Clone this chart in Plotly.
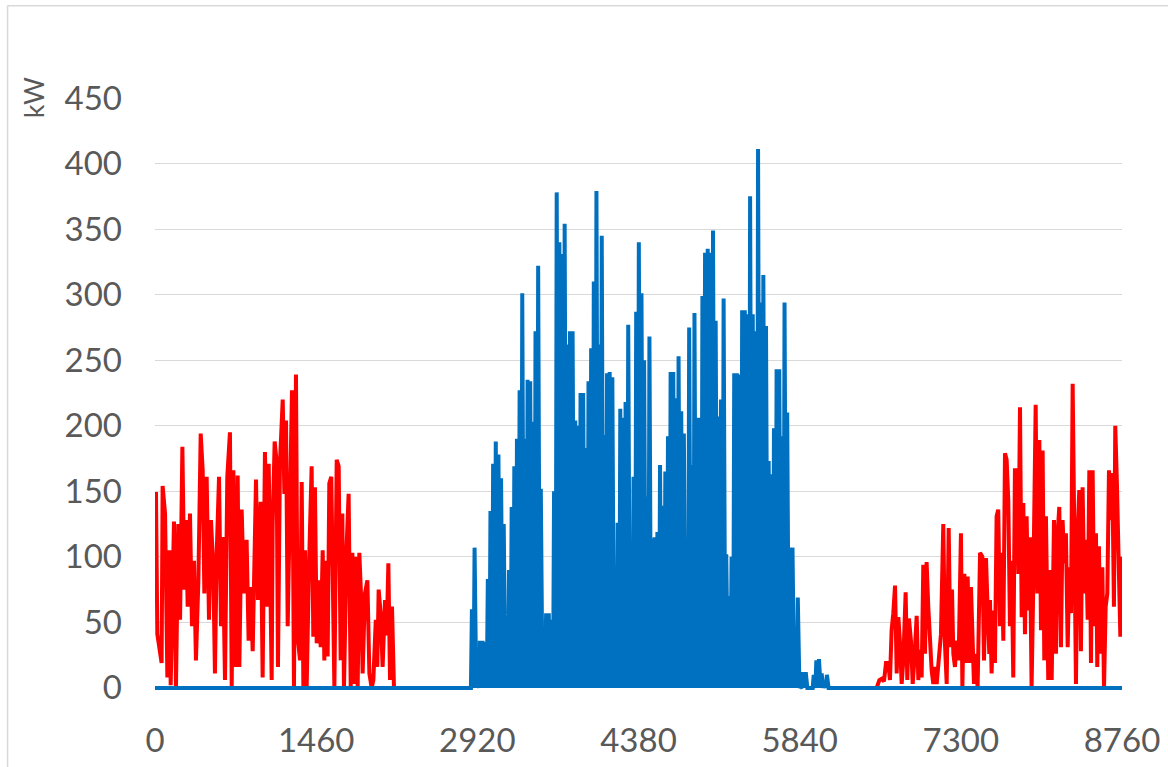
import plotly.graph_objects as go

# Hourly heating demand (kW), winter part of the year: hour of year and value
heat_hours_a = [0, 9, 21, 60, 69, 91, 112, 130, 142, 172,
                190, 211, 227, 248, 266, 281, 296, 317, 335, 353,
                371, 393, 414, 432, 447, 468, 489, 507, 528, 543,
                559, 580, 598, 613, 634, 655, 679, 695, 710, 731,
                749, 764, 785, 806, 830, 848, 866, 885, 915, 933,
                957, 975, 996, 1018, 1030, 1042, 1057, 1066, 1084, 1102,
                1114, 1132, 1157, 1172, 1187, 1202, 1223, 1241, 1259, 1277,
                1292, 1314, 1329, 1344, 1359, 1374, 1395, 1419, 1434, 1449,
                1465, 1486, 1501, 1519, 1534, 1549, 1564, 1579, 1597, 1610,
                1625, 1646, 1664, 1682, 1697, 1712, 1736, 1754, 1773, 1788,
                1806, 1821, 1836, 1851, 1866, 1881, 1902, 1924, 1942, 1963,
                1978, 2000, 2014, 2026, 2044, 2062, 2084, 2099, 2114, 2129,
                2147, 2165]
heat_kw_a = [148, 148, 41, 19, 154, 133, 8, 105, 2, 127,
             0, 125, 52, 184, 75, 128, 62, 133, 47, 97,
             21, 82, 194, 166, 72, 161, 52, 128, 92, 11,
             103, 161, 47, 115, 6, 161, 195, 1, 166, 16,
             162, 16, 136, 72, 113, 36, 77, 28, 159, 67,
             142, 8, 180, 62, 171, 105, 6, 125, 188, 172,
             16, 172, 220, 148, 204, 47, 150, 227, 1, 239,
             39, 21, 157, 1, 105, 0, 92, 169, 39, 153,
             34, 82, 31, 105, 21, 97, 24, 156, 161, 54,
             0, 174, 169, 21, 133, 0, 108, 148, 0, 103,
             3, 100, 0, 103, 72, 11, 72, 82, 11, 0,
             6, 52, 16, 75, 57, 16, 67, 40, 95, 6,
             62, 0]

# Heating demand (kW), autumn / early winter part of the year
heat_hours_b = [6537, 6562, 6583, 6604, 6622, 6643, 6658, 6673, 6688, 6704,
                6719, 6734, 6749, 6764, 6779, 6800, 6815, 6830, 6848, 6864,
                6879, 6900, 6915, 6930, 6945, 6960, 6975, 6990, 7005, 7021,
                7036, 7051, 7066, 7081, 7105, 7120, 7141, 7156, 7172, 7190,
                7205, 7220, 7232, 7247, 7262, 7280, 7301, 7314, 7332, 7347,
                7362, 7377, 7392, 7407, 7419, 7437, 7452, 7474, 7495, 7510,
                7528, 7546, 7558,
                7564, 7579, 7594, 7609, 7624, 7639, 7655, 7670, 7685, 7700,
                7715, 7730, 7745, 7760, 7775, 7790, 7806, 7821, 7836, 7851,
                7866, 7881, 7896, 7911, 7926, 7941, 7957, 7978, 7993, 8011,
                8026, 8041, 8056, 8071, 8092, 8108, 8123, 8144, 8162, 8177,
                8192, 8207, 8222, 8237, 8252, 8268, 8283, 8298, 8313, 8328,
                8343, 8358, 8373, 8388, 8403, 8419, 8434, 8449, 8464, 8479,
                8494, 8509, 8524, 8536, 8551, 8566, 8582, 8597, 8612, 8627,
                8642, 8657, 8672, 8687, 8699, 8714, 8730, 8745, 8760]
heat_kw_b = [0, 6, 7, 5, 19, 19, 6, 44, 57, 78,
             11, 54, 34, 3, 21, 73, 6, 53, 36, 3,
             21, 55, 6, 29, 8, 94, 26, 96, 62, 31,
             13, 3, 16, 3, 26, 41, 125, 34, 3, 122,
             31, 75, 26, 16, 36, 21, 118, 0, 87, 19,
             85, 19, 77, 39, 3, 26, 0, 103, 100, 21,
             99, 52, 26,
             67, 11, 59, 19, 131, 136, 47, 103, 36, 179,
             174, 143, 47, 97, 8, 166, 166, 87, 214, 54,
             141, 41, 131, 59, 115, 0, 82, 216, 72, 189,
             44, 181, 21, 131, 6, 90, 6, 128, 26, 118,
             138, 31, 128, 95, 118, 31, 92, 57, 232, 123,
             3, 118, 151, 28, 153, 72, 113, 52, 166, 19,
             166, 47, 118, 16, 108, 26, 92, 0, 62, 72,
             166, 128, 164, 62, 200, 156, 72, 39, 100]

# Cooling demand: daily afternoon peak (kW), night-time demand is zero
cool_first_day = 117
cool_daily_peak = [0, 0, 60, 107, 8, 36, 36, 35, 83, 135,          # 117-126
                   171, 188, 178, 160, 125, 34, 90, 138, 169, 190,  # 127-136
                   227, 301, 190, 235, 234, 203, 272, 322, 152, 19, # 137-146
                   57, 57, 52, 150, 378, 340, 331, 354, 262, 272,   # 147-156
                   272, 204, 200, 225, 225, 183, 234, 259, 310, 379,# 157-166
                   262, 345, 193, 240, 241, 237, 65, 126, 213, 206, # 167-176
                   218, 277, 103, 161, 287, 340, 301, 250, 146, 268,# 177-186
                   114, 115, 119, 170, 139, 165, 192, 241, 241, 221,# 187-196
                   253, 211, 194, 88, 275, 170, 286, 206, 206, 299, # 197-206
                   332, 335, 332, 349, 280, 207, 220, 297, 102, 70, # 207-216
                   100, 240, 240, 239, 288, 288, 285, 375, 285, 272,# 217-226
                   411, 294, 315, 276, 173, 163, 198, 243, 243, 192,# 227-236
                   294, 210, 107, 107, 33, 69, 1, 12, 12, 0,        # 237-246
                   0, 10, 21, 22, 11, 5, 10, 0]                     # 247-254

x_ticks = [0, 1460, 2920, 4380, 5840, 7300, 8760]
y_ticks = [0, 50, 100, 150, 200, 250, 300, 350, 400, 450]

# daily cooling profile: off from NIGHT_START to NIGHT_END, peak at PEAK_HOUR
NIGHT_START = 1
NIGHT_END = 6
PEAK_HOUR = 15

# Heating series: the two heating seasons; the summer stretch (zero) lies under the cooling line
heat_x = heat_hours_a + [None] + heat_hours_b
heat_y = heat_kw_a + [None] + heat_kw_b

# Cooling series: zero during the night, daily peak in the afternoon
cool_x = [0]
cool_y = [0]
for i, peak in enumerate(cool_daily_peak):
    day = cool_first_day + i
    cool_x += [24 * day + NIGHT_START, 24 * day + NIGHT_END, 24 * day + PEAK_HOUR]
    cool_y += [0, 0, peak]
cool_x.append(8760)
cool_y.append(0)

fig = go.Figure()
fig.add_trace(go.Scatter(x=heat_x, y=heat_y, mode="lines", connectgaps=False,
                         line=dict(color="#ff0000", width=4),
                         name="Heating", hoverinfo="skip"))
fig.add_trace(go.Scatter(x=cool_x, y=cool_y, mode="lines",
                         line=dict(color="#0070c0", width=4),
                         name="Cooling", hoverinfo="skip"))

tick_font = dict(family="Lato, 'Liberation Sans', sans-serif", size=33, color="#595959")

# slight negative floor so the zero-level line is not cut in half by the plot edge
Y_FLOOR = -1.6
PX_PER_KW = 590 / 450

fig.update_layout(
    width=1168, height=767,
    margin=dict(l=155, r=46, t=98, b=79 + Y_FLOOR * PX_PER_KW),
    paper_bgcolor="white", plot_bgcolor="white",
    showlegend=False,
    xaxis=dict(range=[0, 8760], tickvals=x_ticks, ticktext=[str(v) for v in x_ticks],
               showgrid=False, zeroline=False, showline=False, ticks="",
               tickfont=tick_font, ticklabelstandoff=28, automargin=False),
    yaxis=dict(range=[Y_FLOOR, 450], tickvals=y_ticks, showgrid=True, gridcolor="#d9d9d9",
               gridwidth=1.3, zeroline=False, showline=False, ticks="",
               tickfont=tick_font, ticklabelstandoff=32, automargin=False),
    annotations=[dict(text="kW", textangle=-90, x=-0.126, y=1.0, xref="paper", yref="paper",
                      showarrow=False, xanchor="center", yanchor="middle",
                      font=dict(family="Lato, 'Liberation Sans', sans-serif", size=27, color="#595959"))],
    shapes=[
        dict(type="line", xref="paper", yref="paper", x0=-0.1525, x1=1.06, y0=1.1559, y1=1.1559,
             line=dict(color="#d9d9d9", width=1.5)),
        dict(type="line", xref="paper", yref="paper", x0=-0.1525, x1=-0.1525, y0=1.1559, y1=-0.15,
             line=dict(color="#d9d9d9", width=1.5)),
    ],
)

fig.write_html("out.html")
